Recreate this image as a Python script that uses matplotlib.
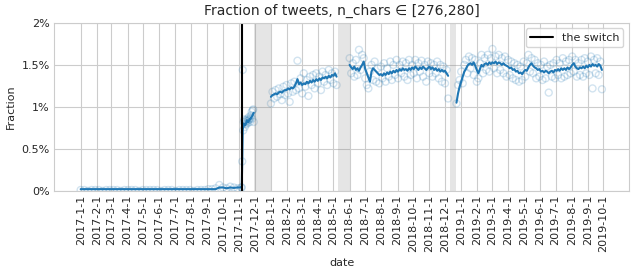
import pandas as pd
import matplotlib
matplotlib.use('Agg')
import matplotlib.pyplot as plt
import seaborn as sns

sns.set_style('whitegrid')
plt.rcParams['font.family'] = ['DejaVu Sans']

# values are in percent
# pre-switch, weekly from 2017-01-01
pre_dots = [0.01, 0.01, 0.0, 0.01, 0.01, 0.01, 0.0, 0.01, 0.01, 0.01, 0.01, 0.0,
            0.01, 0.01, 0.01, 0.01, 0.0, 0.01, 0.01, 0.01, 0.01, 0.01, 0.0, 0.01,
            0.01, 0.01, 0.0, 0.01, 0.01, 0.01, 0.01, 0.0, 0.01, 0.01, 0.01, 0.02,
            0.02, 0.03, 0.07, 0.04, 0.03, 0.05, 0.04, 0.03, 0.04]
pre_line = [0.02] * 38 + [0.04, 0.04, 0.03, 0.04, 0.035, 0.04, 0.04]

# right after the switch, daily from 2017-11-06
sw_line = [0.04, 0.35, 0.73, 0.76, 0.80, 0.79, 0.78, 0.78, 0.80, 0.82, 0.84, 0.83,
           0.82, 0.82, 0.84, 0.85, 0.86, 0.86, 0.87, 0.88, 0.89, 0.90, 0.92, 0.93]
sw_dots = [0.04, 0.35, 1.44, 0.72, 0.82, 0.85, 0.76, 0.80, 0.84, 0.79, 0.83, 0.86,
           0.81, 0.84, 0.88, 0.85, 0.82, 0.87, 0.90, 0.94, 0.86, 0.96, 0.97, 0.82]

# every 3 days, 2018-01-01 .. 2018-05-07
c_line = [1.12, 1.14, 1.15, 1.16, 1.15, 1.17, 1.18, 1.17, 1.19, 1.20, 1.20, 1.22,
          1.21, 1.23, 1.22, 1.24, 1.28, 1.33, 1.27, 1.29, 1.26, 1.28, 1.27, 1.30,
          1.28, 1.31, 1.29, 1.32, 1.30, 1.33, 1.31, 1.34, 1.32, 1.35, 1.34, 1.36,
          1.34, 1.37, 1.35, 1.38, 1.37, 1.40, 1.36]
c_dots = [1.04, 1.18, 1.10, 1.20, 1.12, 1.22, 1.15, 1.08, 1.24, 1.14, 1.26, 1.16,
          1.06, 1.28, 1.18, 1.30, 1.20, 1.55, 1.22, 1.34, 1.16, 1.40, 1.24, 1.32,
          1.13, 1.36, 1.26, 1.38, 1.22, 1.40, 1.28, 1.36, 1.20, 1.42, 1.30, 1.38,
          1.26, 1.44, 1.32, 1.40, 1.28, 1.42, 1.26]

# every 3 days, 2018-06-01 .. 2018-12-07
d_line = [1.50, 1.47, 1.45, 1.48, 1.44, 1.46, 1.43, 1.47, 1.50, 1.54, 1.45, 1.40,
          1.35, 1.30, 1.42, 1.46, 1.44, 1.42, 1.40, 1.38, 1.39, 1.37, 1.40, 1.38,
          1.41, 1.39, 1.42, 1.40, 1.43, 1.41, 1.44, 1.42, 1.45, 1.43, 1.46, 1.44,
          1.45, 1.43, 1.46, 1.44, 1.47, 1.45, 1.48, 1.46, 1.44, 1.47, 1.45, 1.48,
          1.46, 1.44, 1.46, 1.48, 1.45, 1.47, 1.44, 1.46, 1.43, 1.45, 1.42, 1.44,
          1.42, 1.43, 1.40, 1.37]
d_dots = [1.58, 1.40, 1.52, 1.36, 1.56, 1.38, 1.68, 1.44, 1.62, 1.58, 1.34, 1.26,
          1.22, 1.42, 1.50, 1.32, 1.54, 1.30, 1.46, 1.28, 1.48, 1.34, 1.52, 1.30,
          1.46, 1.36, 1.54, 1.32, 1.50, 1.38, 1.56, 1.34, 1.50, 1.40, 1.54, 1.36,
          1.52, 1.32, 1.56, 1.38, 1.50, 1.40, 1.56, 1.34, 1.52, 1.42, 1.55, 1.36,
          1.50, 1.30, 1.54, 1.40, 1.52, 1.36, 1.50, 1.40, 1.54, 1.34, 1.50, 1.30,
          1.48, 1.28, 1.44, 1.10]

# every 3 days, 2018-12-23 .. 2019-09-28
e_line = [1.05, 1.16, 1.24, 1.30, 1.36, 1.42, 1.45, 1.49, 1.51, 1.52, 1.50, 1.53,
          1.49, 1.44, 1.40, 1.45, 1.50, 1.48, 1.51, 1.52, 1.50, 1.53, 1.51, 1.53,
          1.52, 1.54, 1.51, 1.53, 1.52, 1.50, 1.52, 1.50, 1.49, 1.48, 1.46, 1.47,
          1.44, 1.45, 1.42, 1.43, 1.40, 1.41, 1.39, 1.42, 1.44, 1.43, 1.47, 1.50,
          1.52, 1.49, 1.47, 1.46, 1.44, 1.45, 1.42, 1.43, 1.41, 1.43, 1.42, 1.40,
          1.42, 1.43, 1.41, 1.44, 1.43, 1.45, 1.43, 1.46, 1.44, 1.46, 1.44, 1.47,
          1.45, 1.47, 1.50, 1.52, 1.48, 1.46, 1.45, 1.47, 1.46, 1.48, 1.46, 1.49,
          1.47, 1.50, 1.48, 1.51, 1.49, 1.50, 1.48, 1.51, 1.49, 1.44]
e_dots = [1.04, 1.26, 1.32, 1.42, 1.28, 1.50, 1.56, 1.40, 1.60, 1.46, 1.58, 1.38,
          1.56, 1.30, 1.34, 1.52, 1.62, 1.40, 1.58, 1.44, 1.62, 1.42, 1.58, 1.69,
          1.46, 1.60, 1.40, 1.62, 1.44, 1.58, 1.40, 1.60, 1.36, 1.56, 1.38, 1.54,
          1.34, 1.52, 1.32, 1.50, 1.30, 1.48, 1.32, 1.54, 1.36, 1.52, 1.62, 1.42,
          1.58, 1.40, 1.56, 1.34, 1.52, 1.36, 1.50, 1.32, 1.54, 1.34, 1.48, 1.17,
          1.50, 1.36, 1.52, 1.34, 1.56, 1.38, 1.52, 1.34, 1.58, 1.36, 1.54, 1.38,
          1.56, 1.40, 1.60, 1.42, 1.56, 1.36, 1.52, 1.38, 1.56, 1.36, 1.58, 1.40,
          1.54, 1.38, 1.60, 1.22, 1.56, 1.40, 1.58, 1.38, 1.54, 1.21]

segments = [
    # (start, freq, line values, dot values)
    ('2018-01-01', '3D', c_line, c_dots),
    ('2018-06-01', '3D', d_line, d_dots),
    ('2018-12-23', '3D', e_line, e_dots),
]
gaps = [('2017-11-30', '2018-01-01'), ('2018-05-09', '2018-06-01'), ('2018-12-10', '2018-12-22')]
switch_date = '2017-11-07'

fig, ax = plt.subplots(figsize=(6.36, 2.73), dpi=100)
fig.subplots_adjust(left=0.085, right=0.989, top=0.916, bottom=0.301)

blue = '#1f77b4'

# first part: before + right after the switch, one continuous line
pre_idx = pd.date_range('2017-01-01', periods=len(pre_line), freq='7D')
sw_idx = pd.date_range('2017-11-06', periods=len(sw_line), freq='D')
first_idx = pre_idx.append(sw_idx)
ax.plot(first_idx, pre_line + sw_line, color=blue, lw=1.5)
ax.scatter(pd.date_range('2017-01-01', periods=len(pre_dots), freq='7D'), pre_dots,
           facecolors='none', edgecolors=blue, alpha=0.2, s=25)
ax.scatter(pd.date_range('2017-11-06', periods=len(sw_dots), freq='D'), sw_dots,
           facecolors='none', edgecolors=blue, alpha=0.2, s=25)

for start, freq, lv, dv in segments:
    ax.plot(pd.date_range(start, periods=len(lv), freq=freq), lv, color=blue, lw=1.5)
    ax.scatter(pd.date_range(start, periods=len(dv), freq=freq), dv,
               facecolors='none', edgecolors=blue, alpha=0.2, s=25)

for a, b in gaps:
    ax.axvspan(pd.Timestamp(a), pd.Timestamp(b), color='grey', alpha=0.2, lw=0)

ax.axvline(pd.Timestamp(switch_date), color='black', lw=1.5, label='the switch')

ax.set_xlim(pd.Timestamp('2016-11-11'), pd.Timestamp('2019-11-19'))
ax.set_ylim(0, 2)
months = pd.date_range('2017-01-01', '2019-10-01', freq='MS')
ax.set_xticks(months)
ax.set_xticklabels([f'{d.year}-{d.month}-{d.day}' for d in months], rotation=90, fontsize=8)
yt = [0, 0.5, 1, 1.5, 2]
ax.set_yticks(yt)
ax.set_yticklabels([f'{v:g}%' for v in yt], fontsize=8)
ax.tick_params(axis='both', length=0, pad=3)
ax.set_xlabel('date', fontsize=8)
ax.set_ylabel('Fraction', fontsize=8)
ax.set_title('Fraction of tweets, n_chars ∈ [276,280]', fontsize=10)
ax.legend(loc='upper right', fontsize=8)

plt.savefig('out.png', dpi=100)
